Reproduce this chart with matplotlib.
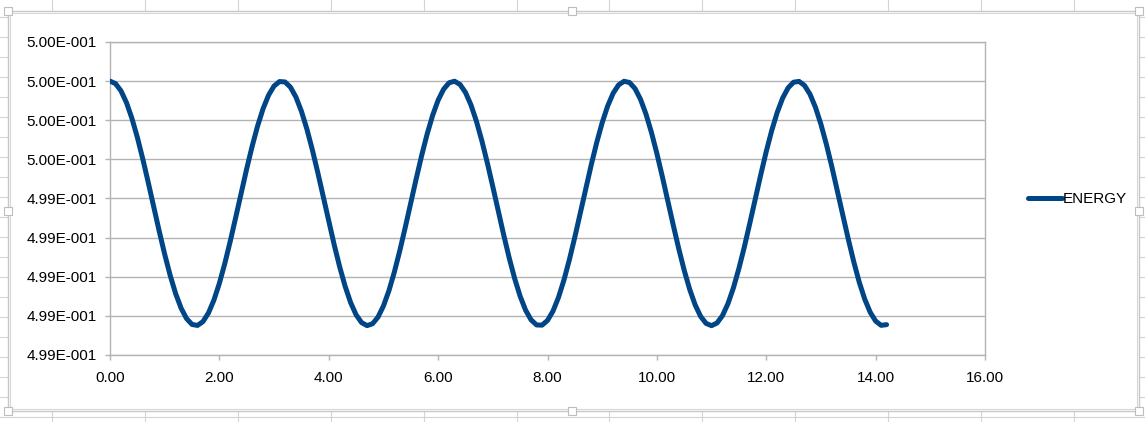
#Recreating the ENERGY line chart (spreadsheet style) with matplotlib
import matplotlib
matplotlib.use("Agg")
import matplotlib.pyplot as plt
from matplotlib.lines import Line2D
from matplotlib.patches import Rectangle
from matplotlib.ticker import FuncFormatter, MultipleLocator
import math

#time values (one point every 0.1)
time = [0.0, 0.1, 0.2, 0.3, 0.4, 0.5, 0.6, 0.7, 0.8, 0.9,
        1.0, 1.1, 1.2, 1.3, 1.4, 1.5, 1.6, 1.7, 1.8, 1.9,
        2.0, 2.1, 2.2, 2.3, 2.4, 2.5, 2.6, 2.7, 2.8, 2.9,
        3.0, 3.1, 3.2, 3.3, 3.4, 3.5, 3.6, 3.7, 3.8, 3.9,
        4.0, 4.1, 4.2, 4.3, 4.4, 4.5, 4.6, 4.7, 4.8, 4.9,
        5.0, 5.1, 5.2, 5.3, 5.4, 5.5, 5.6, 5.7, 5.8, 5.9,
        6.0, 6.1, 6.2, 6.3, 6.4, 6.5, 6.6, 6.7, 6.8, 6.9,
        7.0, 7.1, 7.2, 7.3, 7.4, 7.5, 7.6, 7.7, 7.8, 7.9,
        8.0, 8.1, 8.2, 8.3, 8.4, 8.5, 8.6, 8.7, 8.8, 8.9,
        9.0, 9.1, 9.2, 9.3, 9.4, 9.5, 9.6, 9.7, 9.8, 9.9,
        10.0, 10.1, 10.2, 10.3, 10.4, 10.5, 10.6, 10.7, 10.8, 10.9,
        11.0, 11.1, 11.2, 11.3, 11.4, 11.5, 11.6, 11.7, 11.8, 11.9,
        12.0, 12.1, 12.2, 12.3, 12.4, 12.5, 12.6, 12.7, 12.8, 12.9,
        13.0, 13.1, 13.2, 13.3, 13.4, 13.5, 13.6, 13.7, 13.8, 13.9,
        14.0, 14.1, 14.2]

#energy values (oscillating between 0.5 and about 0.49875)
energy = [0.5000000, 0.4999875, 0.4999507, 0.4998908, 0.4998104, 0.4997127, 0.4996015, 0.4994812, 0.4993567, 0.4992330,
          0.4991149, 0.4990072, 0.4989141, 0.4988394, 0.4987861, 0.4987562, 0.4987511, 0.4987707, 0.4988145, 0.4988806,
          0.4989665, 0.4990686, 0.4991829, 0.4993049, 0.4994297, 0.4995523, 0.4996678, 0.4997717, 0.4998597, 0.4999284,
          0.4999751, 0.4999978, 0.4999957, 0.4999689, 0.4999184, 0.4998462, 0.4997552, 0.4996491, 0.4995320, 0.4994087,
          0.4992841, 0.4991630, 0.4990504, 0.4989508, 0.4988681, 0.4988055, 0.4987657, 0.4987502, 0.4987596, 0.4987935,
          0.4988506, 0.4989286, 0.4990244, 0.4991342, 0.4992536, 0.4993778, 0.4995019, 0.4996209, 0.4997302, 0.4998253,
          0.4999024, 0.4999585, 0.4999914, 0.4999996, 0.4999830, 0.4999422, 0.4998787, 0.4997951, 0.4996948, 0.4995818,
          0.4994605, 0.4993358, 0.4992126, 0.4990960, 0.4989904, 0.4989002, 0.4988289, 0.4987794, 0.4987536, 0.4987526,
          0.4987765, 0.4988241, 0.4988938, 0.4989826, 0.4990871, 0.4992030, 0.4993258, 0.4994506, 0.4995723, 0.4996862,
          0.4997877, 0.4998727, 0.4999379, 0.4999806, 0.4999992, 0.4999929, 0.4999620, 0.4999077, 0.4998321, 0.4997384,
          0.4996301, 0.4995116, 0.4993877, 0.4992633, 0.4991434, 0.4990327, 0.4989356, 0.4988561, 0.4987972, 0.4987614,
          0.4987500, 0.4987636, 0.4988015, 0.4988625, 0.4989435, 0.4990423, 0.4991529, 0.4992742, 0.4993988, 0.4995222,
          0.4996401, 0.4997472, 0.4998396, 0.4999134, 0.4999657, 0.4999945, 0.4999986, 0.4999778, 0.4999330, 0.4998660,
          0.4997793, 0.4996766, 0.4995618, 0.4994397, 0.4993152, 0.4991924, 0.4990767, 0.4989728, 0.4988861, 0.4988189,
          0.4987734, 0.4987517, 0.4987551]

series_name = "ENERGY"

plt.rcParams['font.family'] = ['Liberation Sans', 'DejaVu Sans']

W, H = 1145, 422
fig = plt.figure(figsize=(W / 100, H / 100), dpi=100)
fig.patch.set_facecolor("white")

#spreadsheet cell grid behind the chart
cell_color = "#d4d4d4"
for k in range(12):
    x = (52 + 92.9 * k) / W
    fig.add_artist(Line2D([x, x], [0, 1], color=cell_color, lw=0.8, zorder=0))
for k in range(21):
    y = 1 - (17 + 20 * k) / H
    fig.add_artist(Line2D([0, 1], [y, y], color=cell_color, lw=0.8, zorder=0))

#white chart area with the selection frame
fig.add_artist(Rectangle((8 / W, 1 - 411 / H), 1131 / W, 400 / H, facecolor="white",
                         edgecolor="#c8c8c8", lw=1.0, zorder=0.5))
fig.add_artist(Rectangle((10 / W, 1 - 409 / H), 1127 / W, 396 / H, facecolor="none",
                         edgecolor="#d8d8d8", lw=0.8, zorder=0.6))
#little handles on the frame
for hx, hy in [(8, 11), (572, 11), (1139, 11), (8, 211), (1139, 211), (8, 411), (572, 411), (1139, 411)]:
    fig.add_artist(Rectangle(((hx - 4) / W, 1 - (hy + 4) / H), 8 / W, 8 / H, facecolor="white",
                             edgecolor="#bdbdbd", lw=0.8, zorder=0.7))

ax = fig.add_axes([110 / W, 1 - 355 / H, 875 / W, 313 / H])
ax.set_zorder(1)
ax.set_facecolor("white")

ax.plot(time, energy, color="#004586", lw=3.6, solid_capstyle="round", solid_joinstyle="round",
        label=series_name, zorder=3)

ax.set_xlim(0, 16)
ax.set_ylim(0.4986, 0.5002)
ax.xaxis.set_major_locator(MultipleLocator(2))
ax.yaxis.set_major_locator(MultipleLocator(0.0002))


def sci_label(v, pos):
    #spreadsheet style 0.00E+000
    if v == 0:
        return "0.00E+000"
    e = math.floor(math.log10(abs(v)))
    m = v / 10 ** e
    sign = "-" if e < 0 else "+"
    return f"{m:.2f}E{sign}{abs(e):03d}"


ax.yaxis.set_major_formatter(FuncFormatter(sci_label))
ax.xaxis.set_major_formatter(FuncFormatter(lambda v, p: f"{v:.2f}"))

grid_color = "#b3b3b3"
ax.grid(axis="y", color=grid_color, lw=1.0)
ax.set_axisbelow(True)
for s in ax.spines.values():
    s.set_color(grid_color)
    s.set_linewidth(1.0)

ax.tick_params(axis="both", colors=grid_color, labelcolor="black", labelsize=11, length=3.5, width=1.0)
ax.tick_params(axis="y", pad=6)
ax.tick_params(axis="x", pad=8)

ax.legend(loc="center left", bbox_to_anchor=(1028 / W, 1 - 199 / H), bbox_transform=fig.transFigure,
          frameon=False, fontsize=11, handlelength=2.2, handletextpad=0.1, borderpad=0, borderaxespad=0)

fig.savefig("out.png", dpi=100)
